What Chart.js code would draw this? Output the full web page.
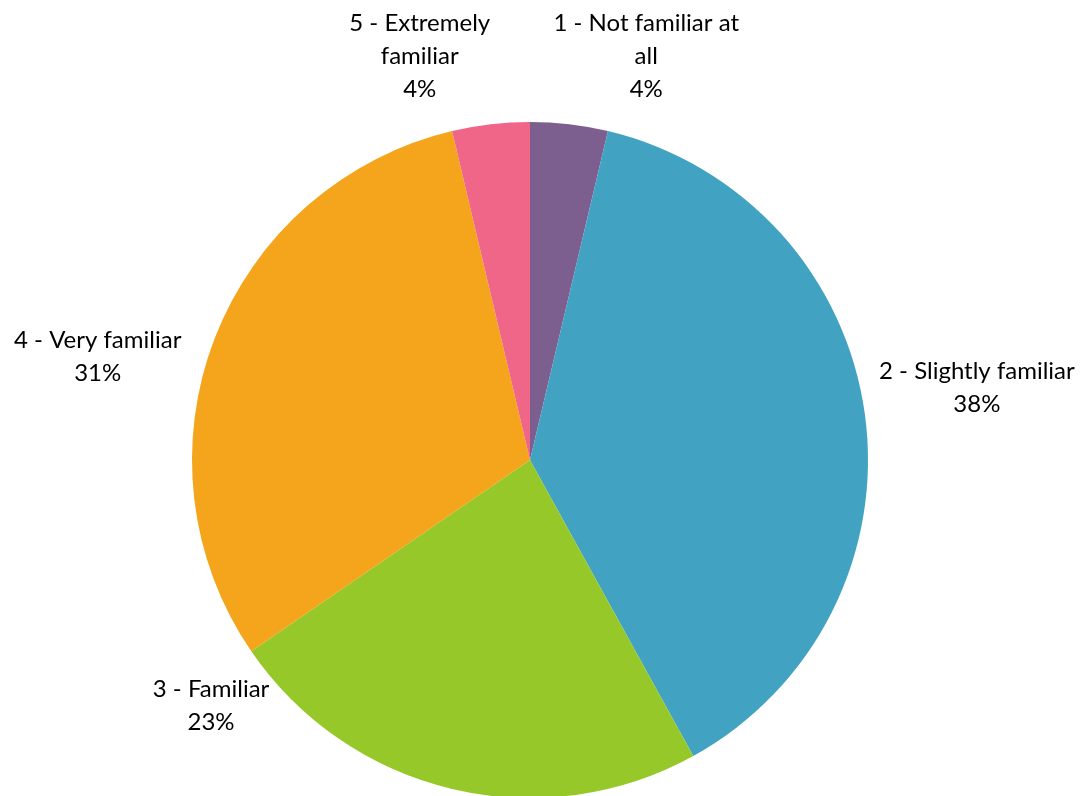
<!DOCTYPE html>
<html>
<head>
<meta charset="utf-8">
<script src="https://cdn.jsdelivr.net/npm/chart.js@4"></script>
<style>
  html, body { margin: 0; padding: 0; background: #fff; overflow: hidden; }
  #wrap { width: 1085px; height: 800px; }
</style>
</head>
<body>
<div id="wrap"><canvas id="myChart" width="1085" height="800"></canvas></div>
<script>
// survey answers (counts)
const categories = ["1 - Not familiar at all", "2 - Slightly familiar", "3 - Familiar", "4 - Very familiar", "5 - Extremely familiar"]
const labelLines = [["1 - Not familiar at", "all"], ["2 - Slightly familiar"], ["3 - Familiar"], ["4 - Very familiar"], ["5 - Extremely", "familiar"]]
const counts = [3, 31, 19, 25, 3]
const colors = ["#7D5F8F", "#41A3C1", "#97C82A", "#F4A51B", "#F06689"]

// where each label sits relative to the outer edge of its slice (mid angle)
const labelNudge = [[77, -68], [112, -26], [-241, -83], [-117, 19], [-71, -68]]

const outsideLabels = {
  id: "outsideLabels",
  afterDraw(chart) {
    const ctx = chart.ctx
    const meta = chart.getDatasetMeta(0)
    const total = counts.reduce((a, b) => a + b, 0)
    ctx.save()
    ctx.fillStyle = "#000"
    ctx.font = "24px Lato"
    ctx.textAlign = "center"
    ctx.textBaseline = "middle"
    const lh = 33
    meta.data.forEach((arc, i) => {
      const mid = (arc.startAngle + arc.endAngle) / 2
      const ex = arc.x + Math.cos(mid) * arc.outerRadius
      const ey = arc.y + Math.sin(mid) * arc.outerRadius
      const lines = labelLines[i].concat([Math.round(counts[i] / total * 100) + "%"])
      const cx = ex + labelNudge[i][0]
      const cy = ey + labelNudge[i][1]
      const top = cy - (lines.length - 1) * lh / 2
      lines.forEach((t, j) => ctx.fillText(t, cx, top + j * lh))
    })
    ctx.restore()
  }
}

let ctx = document.querySelector("#myChart")
let myChart = new Chart(ctx, {
  type: "pie",
  data: {
    labels: categories,
    datasets: [{
      data: counts,
      backgroundColor: colors,
      borderWidth: 0
    }]
  },
  options: {
    responsive: false,
    animation: false,
    layout: { padding: { top: 122, bottom: 2, left: 192, right: 217 } },
    plugins: {
      legend: { display: false },
      tooltip: { enabled: false }
    }
  },
  plugins: [outsideLabels]
})
</script>
</body>
</html>
